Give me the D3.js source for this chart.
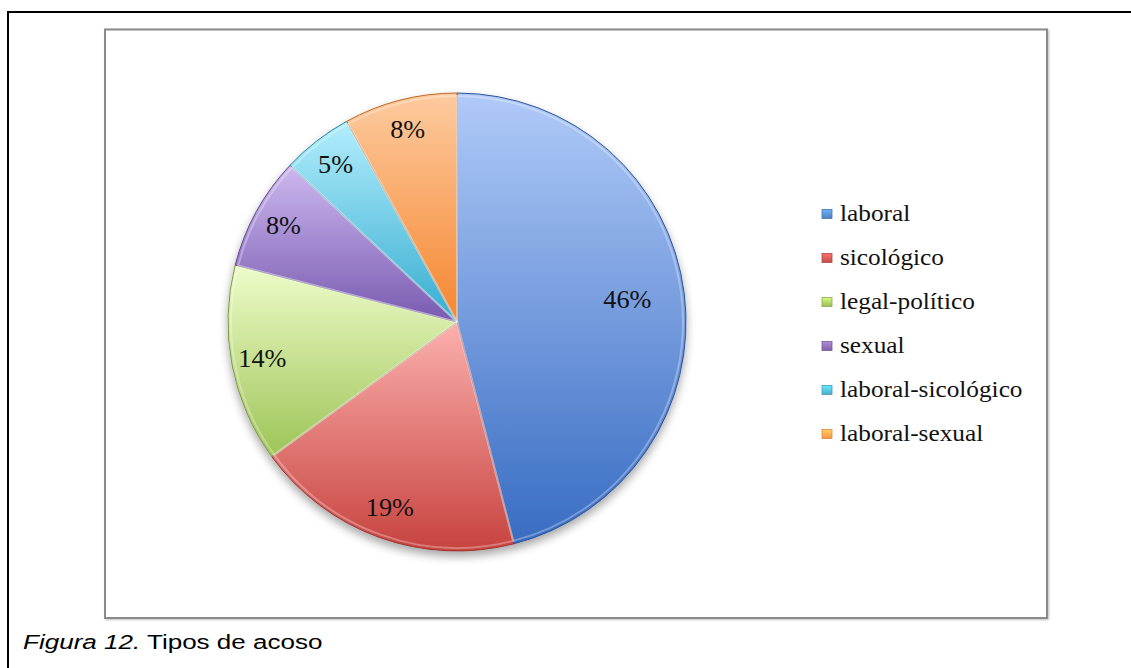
<!DOCTYPE html>
<html>
<head>
<meta charset="utf-8">
<script src="https://cdn.jsdelivr.net/npm/d3@7/dist/d3.min.js"></script>
<style>
  html, body { margin: 0; padding: 0; background: #ffffff; }
  svg { display: block; }
</style>
</head>
<body>
<svg id="chart" width="1131" height="668"></svg>
<script>
// ---- data ----
const categories = ["laboral", "sicológico", "legal-político", "sexual", "laboral-sicológico", "laboral-sexual"];
const values = [46, 19, 14, 8, 5, 8];
const labels = ["46%", "19%", "14%", "8%", "5%", "8%"];
const baseColors = ["#4f81bd", "#c0504d", "#9bbb59", "#8064a2", "#4bacc6", "#f79646"];
const lightColors = ["#b0caf8", "#fbb0ae", "#eefcca", "#cdb8ef", "#b2eefc", "#fdcb9f"];
const darkColors = ["#386cc2", "#c7433f", "#9ec457", "#785ab0", "#36acd0", "#f58630"];
const captionItalic = "Figura 12.";
const captionText = " Tipos de acoso";

const svg = d3.select("#chart");
const defs = svg.append("defs");

// outer frame (top + left lines)
svg.append("path")
  .attr("d", "M8,668 V12 H1131")
  .attr("fill", "none").attr("stroke", "#000").attr("stroke-width", 2);

// chart area box with soft shadow
const shadow = defs.append("filter").attr("id", "boxShadow")
  .attr("x", "-5%").attr("y", "-5%").attr("width", "110%").attr("height", "110%");
shadow.append("feDropShadow").attr("dx", 1).attr("dy", 1).attr("stdDeviation", 1)
  .attr("flood-color", "#000").attr("flood-opacity", 0.25);

svg.append("rect")
  .attr("x", 105).attr("y", 29.5).attr("width", 942).attr("height", 588.5)
  .attr("fill", "#fff").attr("stroke", "#8a8a8a").attr("stroke-width", 2)
  .attr("filter", "url(#boxShadow)");

// pie
const cx = 457, cy = 322, R = 229;
const pie = d3.pie().value(d => d).sort(null);
const arcs = pie(values);
const arc = d3.arc().innerRadius(0).outerRadius(R);

const pieShadow = defs.append("filter").attr("id", "pieShadow")
  .attr("x", "-10%").attr("y", "-10%").attr("width", "120%").attr("height", "125%");
pieShadow.append("feGaussianBlur").attr("in", "SourceAlpha").attr("stdDeviation", 5);
pieShadow.append("feOffset").attr("dx", 0).attr("dy", 5).attr("result", "ob");
pieShadow.append("feComponentTransfer").append("feFuncA").attr("type", "linear").attr("slope", 0.35);
const pm = pieShadow.append("feMerge");
pm.append("feMergeNode");
pm.append("feMergeNode").attr("in", "SourceGraphic");

categories.forEach((c, i) => {
  const g = defs.append("linearGradient").attr("id", "grad" + i)
    .attr("x1", 0).attr("y1", 0).attr("x2", 0).attr("y2", 1);
  g.append("stop").attr("offset", "0%").attr("stop-color", lightColors[i]);
  g.append("stop").attr("offset", "100%").attr("stop-color", darkColors[i]);
  const lg = defs.append("linearGradient").attr("id", "lgrad" + i)
    .attr("x1", 0).attr("y1", 0).attr("x2", 0).attr("y2", 1);
  lg.append("stop").attr("offset", "0%").attr("stop-color", d3.color(baseColors[i]).brighter(0.9));
  lg.append("stop").attr("offset", "100%").attr("stop-color", baseColors[i]);
});

const pieG = svg.append("g").attr("transform", `translate(${cx},${cy})`).attr("filter", "url(#pieShadow)");
pieG.selectAll("path.slice").data(arcs).enter().append("path")
  .attr("class", "slice")
  .attr("d", arc)
  .attr("fill", (d, i) => `url(#grad${i})`)
  .attr("stroke", (d, i) => d3.color(darkColors[i]).darker(0.7))
  .attr("stroke-width", 1)
  .attr("stroke-linejoin", "round");

// bevel highlight inside each slice
const innerArc = d3.arc().innerRadius(0).outerRadius(R - 3);
pieG.selectAll("path.bevel").data(arcs).enter().append("path")
  .attr("class", "bevel")
  .attr("d", innerArc)
  .attr("fill", "none")
  .attr("stroke", "#ffffff").attr("stroke-opacity", 0.3).attr("stroke-width", 2);

// labels
const labG = svg.append("g").attr("transform", `translate(${cx},${cy})`);
labG.selectAll("text").data(arcs).enter().append("text")
  .attr("transform", d => {
    const a = (d.startAngle + d.endAngle) / 2;
    const r = (d.endAngle - d.startAngle) > Math.PI * 0.6 ? R * 0.75 : R * 0.865;
    return `translate(${r * Math.sin(a)},${-r * Math.cos(a)}) scale(1.05,1)`;
  })
  .attr("text-anchor", "middle")
  .attr("dy", "0.3em")
  .attr("font-family", "'Liberation Serif', 'DejaVu Serif', serif")
  .attr("font-size", 25)
  .attr("fill", "#111")
  .text((d, i) => labels[i]);

// legend
const legend = svg.append("g").attr("transform", "translate(822,214)");
const rows = legend.selectAll("g").data(categories).enter().append("g")
  .attr("transform", (d, i) => `translate(0,${i * 44})`);
rows.append("rect")
  .attr("x", 0).attr("y", -4.5).attr("width", 10).attr("height", 9)
  .attr("fill", (d, i) => `url(#lgrad${i})`)
  .attr("stroke", (d, i) => d3.color(baseColors[i]).darker(0.3)).attr("stroke-width", 0.8);
rows.append("text")
  .attr("transform", "translate(18,0) scale(1.1,1)")
  .attr("dy", "0.3em")
  .attr("font-family", "'Liberation Serif', 'DejaVu Serif', serif")
  .attr("font-size", 23)
  .attr("fill", "#111")
  .text(d => d);

// caption
const cap = svg.append("text")
  .attr("transform", "translate(23,649) scale(1.24,1)")
  .attr("font-family", "'Liberation Sans', Arial, sans-serif")
  .attr("font-size", 21)
  .attr("fill", "#000");
cap.append("tspan").attr("font-style", "italic").text(captionItalic);
cap.append("tspan").text(captionText);
</script>
</body>
</html>
